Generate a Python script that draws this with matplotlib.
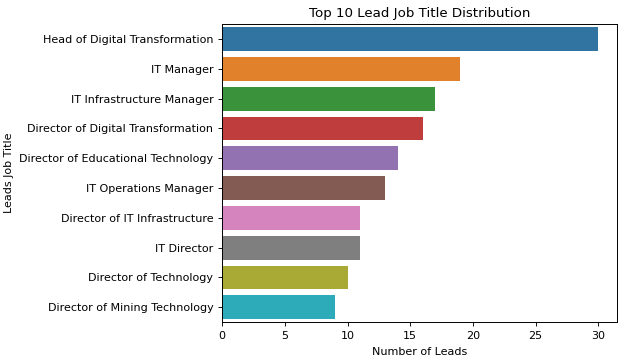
import matplotlib
matplotlib.use("Agg")
import matplotlib.pyplot as plt
import seaborn as sns

job_titles = [
    "Head of Digital Transformation",
    "IT Manager",
    "IT Infrastructure Manager",
    "Director of Digital Transformation",
    "Director of Educational Technology",
    "IT Operations Manager",
    "Director of IT Infrastructure",
    "IT Director",
    "Director of Technology",
    "Director of Mining Technology",
]
lead_counts = [30, 19, 17, 16, 14, 13, 11, 11, 10, 9]

plt.rcParams["font.size"] = 8

fig, ax = plt.subplots(figsize=(6.24, 3.6), dpi=100)
sns.barplot(x=lead_counts, y=job_titles, hue=job_titles, palette="tab10",
            saturation=0.75, legend=False, ax=ax)
ax.set_title("Top 10 Lead Job Title Distribution", fontsize=9.6, pad=4.8)
ax.set_xlabel("Number of Leads", fontsize=8)
ax.set_ylabel("Leads Job Title", fontsize=8)
ax.tick_params(labelsize=8, length=2.8, width=0.64)
for spine in ax.spines.values():
    spine.set_linewidth(0.7)
fig.subplots_adjust(left=0.356, right=0.989, top=0.933, bottom=0.105)
fig.savefig("out.png", dpi=100)
